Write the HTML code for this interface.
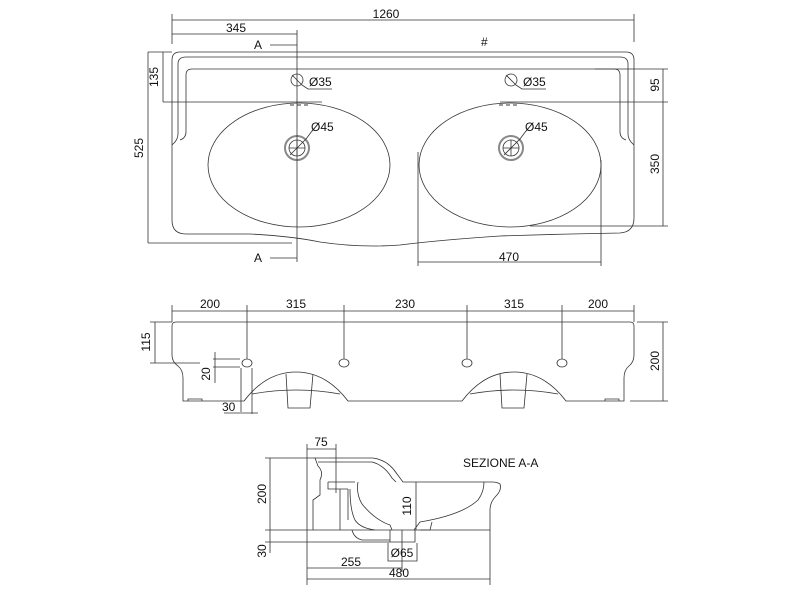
<!DOCTYPE html>
<html><head><meta charset="utf-8"><style>body{margin:0;background:#fff}svg{display:block}text{font-family:"Liberation Sans",sans-serif;font-size:12px;fill:#111}</style></head><body>
<svg width="800" height="600" viewBox="0 0 800 600">
<g fill="none" stroke="#333" stroke-width="0.8">
<!-- TOP VIEW -->
<path d="M180,52 H626 Q634,52 634,60 V218 Q634,232 620,233 Q560,234 500,236 Q440,240 400,245 Q360,248 320,242 Q290,236 250,234 H186 Q172,234 172,220 V60 Q172,52 180,52 Z"/>
<path d="M186,57 H620 Q628,57 628,64 V134 Q628,140 634,145"/>
<path d="M186,57 Q178,57 178,64 V134 Q178,140 172,145"/>
<path d="M192,69 H614 Q620,69 620,75 V132 Q620,138 626,140"/>
<path d="M192,69 Q186,69 186,75 V132 Q186,138 180,140"/>
<ellipse cx="299" cy="165" rx="91" ry="62"/>
<ellipse cx="510" cy="165" rx="91" ry="62"/>
<circle cx="297" cy="148" r="12" stroke="#888" stroke-width="2"/>
<circle cx="297" cy="148" r="8"/>
<circle cx="511" cy="148" r="12" stroke="#888" stroke-width="2"/>
<circle cx="511" cy="148" r="8"/>
<path d="M290,155 L306,139 M289,148 H305 M297,140 V156"/>
<path d="M504,155 L520,139 M503,148 H519 M511,140 V156"/>
<circle cx="297" cy="80" r="6"/><circle cx="511" cy="80" r="6"/>
<path d="M292,75 L302,85 M506,75 L516,85 M302,85 L308,89 H332 M516,85 L522,89 H546"/>
<path d="M306,139 L312,131 M520,139 L526,131"/>
<path d="M290,105 h4 M297,105 h4 M304,105 h4 M499,105 h4 M506,105 h4 M513,105 h4" stroke-width="1"/>
<path d="M172,20 H634 M172,14 V44 M634,14 V42 M172,34 H297 M297,30 V262"/>
<path d="M148,52 H172 M148,52 V243 M148,243 H292 M163,52 V102 M163,102 H322 M595,69 H668 M663,69 V102 M500,102 H668 M663,102 V226 M530,226 H668"/>
<path d="M270,45 H297 M270,258 H297 M418,152 V266 M601,160 V266 M418,262 H601"/>
<!-- FRONT VIEW -->
<path d="M176,322 H630 Q634,322 634,326 V355 Q634,362 629,366 Q624,370 624,378 V401 H566 Q544,372 514,372 Q484,372 462,401 H348 Q326,372 296,372 Q266,372 244,401 H183 V378 Q183,370 178,366 Q172,362 172,355 V326 Q172,322 176,322 Z"/>
<path d="M252,394 Q296,386 340,394 M470,394 Q514,386 558,394"/>
<path d="M286,374 L288,408 H310 L313,374 M500,374 L502,408 H524 L527,374"/>
<path d="M188,401 v-2 h14 v2 M605,401 v-2 h14 v2"/>
<ellipse cx="247" cy="363" rx="5" ry="4"/><ellipse cx="344" cy="363" rx="5" ry="4"/><ellipse cx="467" cy="363" rx="5" ry="4"/><ellipse cx="562" cy="363" rx="5" ry="4"/>
<path d="M172,311 H634 M172,305 V322 M634,305 V322 M247,305 V359 M344,305 V359 M467,305 V359 M562,305 V359"/>
<path d="M150,322 H172 M155,322 V363 M150,363 H200 M637,322 H668 M663,322 V401 M630,401 H668"/>
<path d="M213,359 H240 M213,367 H240 M215,352 V383 M241,368 V412 M252,368 V414 M224,413 H258"/>
<!-- SECTION -->
<path d="M307,458 V530 H490 V510 Q490,502 496,496 Q502,490 500,484 Q497,482 492,482 H484 Q484,492 478,500 Q462,515 420,522 L414,530"/>
<path d="M307,458 H315 L318,466 Q324,472 320,480 V495 L313,500 V530"/>
<path d="M315,458 H373 Q388,460 397,474 L403,482 H484"/>
<path d="M318,462 H372 Q384,465 392,478 L396,482"/>
<path d="M328,482 H355 M328,482 V489 H348 M348,489 V520 M340,489 V530"/>
<path d="M358,482 Q356,494 362,504 Q375,520 390,525 L392,530"/>
<path d="M350,489 Q350,510 355,520 Q360,528 375,530 M352,530 Q354,538 362,540 H390"/>
<path d="M390,530 V542 H415 V530 M420,530 H430 L432,522"/>
<path d="M307,449 H336 M307,444 V458 M336,444 V493"/>
<path d="M265,458 H307 M270,458 V530 M265,530 H307 M270,530 V553 M265,542 H390 M416,482 V530 M402,530 V572 M307,530 V585 M490,530 V585 M307,568 H402 M307,579 H490 M388,543 V561 H417 V543"/>
</g>
<text x="386" y="18" text-anchor="middle">1260</text>
<text x="236" y="32" text-anchor="middle">345</text>
<text x="254" y="49">A</text><text x="254" y="262">A</text>
<text x="481" y="46" fill="#666">#</text>
<text x="309" y="86">Ø35</text><text x="523" y="86">Ø35</text>
<text x="311" y="131">Ø45</text><text x="525" y="131">Ø45</text>
<text x="509" y="261" text-anchor="middle">470</text>
<text transform="translate(158,77) rotate(-90)" text-anchor="middle">135</text>
<text transform="translate(143,148) rotate(-90)" text-anchor="middle">525</text>
<text transform="translate(659,85) rotate(-90)" text-anchor="middle">95</text>
<text transform="translate(659,164) rotate(-90)" text-anchor="middle">350</text>
<text x="210" y="308" text-anchor="middle">200</text><text x="296" y="308" text-anchor="middle">315</text><text x="405" y="308" text-anchor="middle">230</text><text x="514" y="308" text-anchor="middle">315</text><text x="598" y="308" text-anchor="middle">200</text>
<text transform="translate(150,342) rotate(-90)" text-anchor="middle">115</text>
<text transform="translate(210,374) rotate(-90)" text-anchor="middle">20</text>
<text x="222" y="411">30</text>
<text transform="translate(659,361) rotate(-90)" text-anchor="middle">200</text>
<text x="321" y="446" text-anchor="middle">75</text>
<text x="463" y="467">SEZIONE A-A</text>
<text transform="translate(266,494) rotate(-90)" text-anchor="middle">200</text>
<text transform="translate(266,551) rotate(-90)" text-anchor="middle">30</text>
<text transform="translate(411,506) rotate(-90)" text-anchor="middle">110</text>
<text x="402" y="557" text-anchor="middle">Ø65</text>
<text x="351" y="566" text-anchor="middle">255</text>
<text x="399" y="577" text-anchor="middle">480</text>
</svg>
</body></html>
